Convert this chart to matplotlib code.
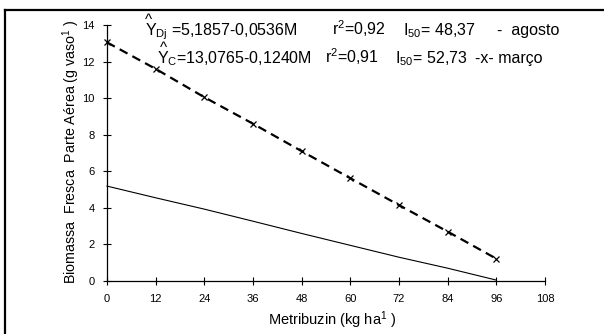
import matplotlib
matplotlib.use("Agg")
import matplotlib.pyplot as plt
from matplotlib.lines import Line2D

plt.rcParams["font.family"] = ["Liberation Sans", "DejaVu Sans"]
plt.rcParams["mathtext.fontset"] = "custom"
plt.rcParams["mathtext.rm"] = "Liberation Sans"
plt.rcParams["mathtext.it"] = "Liberation Sans"

doses = [0, 12, 24, 36, 48, 60, 72, 84, 96]
marco = [13.05, 11.6, 10.05, 8.6, 7.1, 5.62, 4.15, 2.7, 1.22]
agosto = [5.19, 4.55, 3.93, 3.27, 2.6, 1.95, 1.3, 0.7, 0.05]
xticks = [0, 12, 24, 36, 48, 60, 72, 84, 96, 108]
yticks = [0, 2, 4, 6, 8, 10, 12, 14]

# legend / equation pieces: (text, x px)
eq_agosto = [("Y$_{\\rm Dj}$ =5,1857-0,0536M", 145), ("r$^2$=0,92", 332),
             ("I$_{50}$= 48,37", 403), ("-  agosto", 497)]
eq_marco = [("Y$_{\\rm C}$=13,0765-0,1240M", 157), ("r$^2$=0,91", 325),
            ("I$_{50}$= 52,73", 395), ("-x- março", 475)]

W, H = 604, 334
fig = plt.figure(figsize=(W / 100, H / 100), dpi=100)
ax = fig.add_axes([107 / W, 1 - 281 / H, 438 / W, 256 / H])

ax.plot(doses, agosto, color="black", lw=0.8, clip_on=False)
ax.plot(doses, marco, color="black", lw=1.6, ls=(0, (4, 2.5)), clip_on=False)
ax.plot(doses, marco, ls="none", marker="x", ms=5, mew=0.9, color="black",
        clip_on=False)

ax.set_xlim(0, 108)
ax.set_ylim(0, 14)
ax.set_xticks(xticks)
ax.set_yticks(yticks)
ax.tick_params(direction="inout", length=6, width=0.8, labelsize=8, pad=6)
for s in ("top", "right"):
    ax.spines[s].set_visible(False)
for s in ("left", "bottom"):
    ax.spines[s].set_linewidth(0.9)

ax.set_xlabel("Metribuzin (kg ha$^{1}$ )", fontsize=10.5, labelpad=4)
ax.xaxis.label.set_x(0.514)
ax.set_ylabel("Biomassa  Fresca  Parte Aérea (g vaso$^{1}$ )", fontsize=10.3,
              labelpad=0)
ax.yaxis.label.set_y(0.506)

fs = 11.5
for txt, x in eq_agosto:
    fig.text(x / W, 1 - 35 / H, txt, fontsize=fs, va="baseline", ha="left")
for txt, x in eq_marco:
    fig.text(x / W, 1 - 63 / H, txt, fontsize=fs, va="baseline", ha="left")
fig.text(145 / W, 1 - 24 / H, "^", fontsize=11, va="baseline", ha="left")
fig.text(160 / W, 1 - 52 / H, "^", fontsize=11, va="baseline", ha="left")

fig.add_artist(Line2D([5 / W, 1.0], [1 - 10 / H, 1 - 10 / H],
                      transform=fig.transFigure, color="black", lw=1.6))
fig.add_artist(Line2D([5 / W, 5 / W], [0, 1 - 10 / H],
                      transform=fig.transFigure, color="black", lw=1.6))

fig.savefig("out.png", dpi=100)
